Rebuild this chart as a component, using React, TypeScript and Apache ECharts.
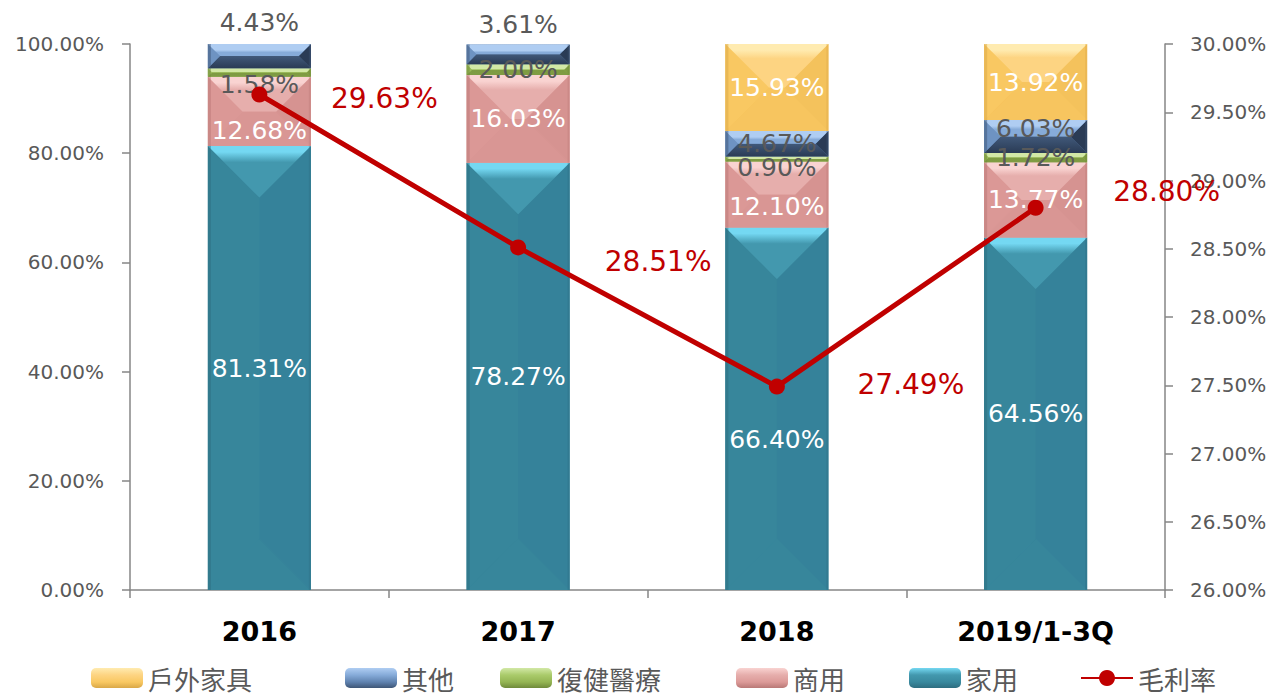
import React, { useEffect, useRef } from 'react';
import * as echarts from 'echarts';

// ---- data ----
const categories = ['2016', '2017', '2018', '2019/1-3Q'];
const household = [81.31, 78.27, 66.40, 64.56];   // 家用
const commercial = [12.68, 16.03, 12.10, 13.77];  // 商用
const rehab = [1.58, 2.00, 0.90, 1.72];           // 復健醫療
const other = [4.43, 3.61, 4.67, 6.03];           // 其他
const outdoor = [0, 0, 15.93, 13.92];             // 戶外家具
const grossMargin = [29.63, 28.51, 27.49, 28.80]; // 毛利率

const leftAxis = { min: 0, max: 100, interval: 20 };
const rightAxis = { min: 26, max: 30, interval: 0.5 };

// ---- styles (label nudges, palettes) ----
const householdDy = [0, 0, 31, 0];
const commercialDy = [19, 0, 12, 0];
const rehabDy = [12, 0, 9, 0];
const otherDy = [-34, -30, 0, -8];
const outdoorDy = [0, 0, 0, 0];
const marginLabelOffsets = [[125, 4], [140, 14], [134, -2], [131, -16]];

const PAL: Record<string, any> = {
  household: { hi: '#74D8F2', top: '#4398AE', left: '#37869B', right: '#35829A', bottom: '#37869B', base: '#39899E', edge: '#2E6E80', strongBottom: false },
  commercial: { hi: '#F9D3D1', top: '#E6AEAC', left: '#DB9896', right: '#D69391', bottom: '#D99694', base: '#DC9A98', edge: '#B97876', strongBottom: false },
  rehab: { hi: '#D2E8A6', top: '#AACB6B', left: '#9BBB59', right: '#7F9C43', bottom: '#7E9B42', base: '#94B553', edge: '#6F8A3A', strongBottom: true },
  other: { hi: '#AFCDF2', top: '#86ABD9', left: '#6E93C2', right: '#2A3B55', bottom: '#41597A', base: '#5F82AF', edge: '#3E5676', strongBottom: true },
  outdoor: { hi: '#FFEBB0', top: '#FDD482', left: '#F9C862', right: '#F4C25C', bottom: '#F7C55F', base: '#F9C862', edge: '#D9A747', strongBottom: false },
};

const seriesDefs = [
  { name: '家用', values: household, pal: PAL.household, labelColor: '#FFFFFF', dy: householdDy },
  { name: '商用', values: commercial, pal: PAL.commercial, labelColor: '#FFFFFF', dy: commercialDy },
  { name: '復健醫療', values: rehab, pal: PAL.rehab, labelColor: '#595959', dy: rehabDy },
  { name: '其他', values: other, pal: PAL.other, labelColor: '#595959', dy: otherDy },
  { name: '戶外家具', values: outdoor, pal: PAL.outdoor, labelColor: '#FFFFFF', dy: outdoorDy },
];

const legendNames = ['戶外家具', '其他', '復健醫療', '商用', '家用', '毛利率'];
const legendLefts = [91, 345, 500, 736, 909, 1080];

const LABEL_FONT = '"DejaVu Sans", sans-serif';
const CJK_FONT = '"Noto Sans CJK TC", "Noto Sans CJK SC", sans-serif';

function makeRender(pal: any, labelColor: string, dy: number[]) {
  return (params: any, api: any) => {
    const i = api.value(0);
    const lo = api.value(1);
    const hiV = api.value(2);
    const v = api.value(3);
    const pB = api.coord([i, lo]);
    const pT = api.coord([i, hiV]);
    const w = api.size([1, 0])[0] * 0.398;
    const cx = pB[0];
    const x0 = cx - w / 2;
    const x1 = cx + w / 2;
    const y0 = pB[1];
    const y1 = pT[1];
    const h = y0 - y1;
    const d = Math.min(w / 2, h / 2);
    const s = Math.min(0.9, 6 / Math.max(d, 1));
    const topGrad = new echarts.graphic.LinearGradient(0, 0, 0, 1, [
      { offset: 0, color: pal.hi },
      { offset: s, color: pal.hi },
      { offset: Math.min(1, s + 0.2), color: pal.top },
      { offset: 1, color: pal.top },
    ]);
    const botGrad = new echarts.graphic.LinearGradient(0, 0, 0, 1, [
      { offset: 0, color: pal.bottom },
      { offset: 1, color: pal.right },
    ]);
    const children: any[] = [
      { type: 'rect', shape: { x: x0, y: y1, width: w, height: h }, style: { fill: pal.base } },
      {
        type: 'polygon',
        shape: { points: [[x0, y0], [x1, y0], [x1 - d, y0 - d], [x0 + d, y0 - d]] },
        style: { fill: pal.strongBottom ? botGrad : pal.bottom },
      },
      {
        type: 'polygon',
        shape: { points: [[x0, y1], [x0 + d, y1 + d], [x0 + d, y0 - d], [x0, y0]] },
        style: { fill: pal.left },
      },
      {
        type: 'polygon',
        shape: { points: [[x1, y1], [x1 - d, y1 + d], [x1 - d, y0 - d], [x1, y0]] },
        style: { fill: pal.right },
      },
      {
        type: 'polygon',
        shape: { points: [[x0, y1], [x1, y1], [x1 - d, y1 + d], [x0 + d, y1 + d]] },
        style: { fill: topGrad },
      },
      {
        type: 'rect',
        shape: { x: x0, y: y1, width: 3, height: h },
        style: { fill: pal.edge, opacity: 0.5 },
      },
      {
        type: 'rect',
        shape: { x: x1 - 2, y: y1, width: 2, height: h },
        style: { fill: pal.edge, opacity: 0.35 },
      },
      {
        type: 'text',
        z2: 100,
        style: {
          text: v.toFixed(2) + '%',
          x: cx,
          y: (y0 + y1) / 2 + dy[i],
          align: 'center',
          verticalAlign: 'middle',
          fill: labelColor,
          fontSize: 25,
          fontFamily: LABEL_FONT,
        },
      },
    ];
    return { type: 'group', children };
  };
}

function buildBarSeries() {
  const cum = categories.map(() => 0);
  return seriesDefs.map((def) => {
    const data: number[][] = [];
    def.values.forEach((v, i) => {
      if (v > 0) data.push([i, cum[i], cum[i] + v, v]);
      cum[i] += v;
    });
    return {
      type: 'custom',
      name: def.name,
      yAxisIndex: 0,
      renderItem: makeRender(def.pal, def.labelColor, def.dy),
      encode: { x: 0, y: [1, 2] },
      itemStyle: {
        color: new echarts.graphic.LinearGradient(0, 0, 0, 1, [
          { offset: 0, color: def.pal.hi },
          { offset: 0.35, color: def.pal.top },
          { offset: 0.7, color: def.pal.base },
          { offset: 1, color: def.pal.edge },
        ]),
      },
      clip: false,
      data,
      z: 2,
    };
  });
}

export default function App() {
  const ref = useRef<HTMLDivElement>(null);
  useEffect(() => {
    if (!ref.current) return;
    const chart = echarts.init(ref.current, undefined, { renderer: 'svg' });
    const axisLine = { show: true, lineStyle: { color: '#868686', width: 1.5 } };
    const option: any = {
      animation: false,
      backgroundColor: '#FFFFFF',
      grid: { left: 130, right: 109, top: 44, bottom: 105 },
      legend: legendNames.map((name, k) => ({
        data: [name],
        left: legendLefts[k],
        top: 665,
        padding: 0,
        itemWidth: 52,
        itemHeight: 20,
        selectedMode: false,
        textStyle: { fontSize: 26, lineHeight: 26, color: '#595959', fontFamily: CJK_FONT },
      })),
      xAxis: {
        type: 'category',
        data: categories,
        axisLine,
        axisTick: { show: true, length: 8, lineStyle: { color: '#868686', width: 1.5 } },
        axisLabel: {
          fontSize: 27,
          fontWeight: 'bold',
          color: '#000000',
          fontFamily: LABEL_FONT,
          margin: 28,
        },
        splitLine: { show: false },
      },
      yAxis: [
        {
          type: 'value',
          min: leftAxis.min,
          max: leftAxis.max,
          interval: leftAxis.interval,
          axisLine,
          axisTick: { show: true, length: 8, lineStyle: { color: '#868686', width: 1.5 } },
          axisLabel: {
            formatter: (v: number) => v.toFixed(2) + '%',
            fontSize: 20,
            color: '#595959',
            fontFamily: LABEL_FONT,
            margin: 26,
          },
          splitLine: { show: false },
        },
        {
          type: 'value',
          position: 'right',
          min: rightAxis.min,
          max: rightAxis.max,
          interval: rightAxis.interval,
          axisLine,
          axisTick: { show: true, length: 8, lineStyle: { color: '#868686', width: 1.5 } },
          axisLabel: {
            formatter: (v: number) => v.toFixed(2) + '%',
            fontSize: 20,
            color: '#595959',
            fontFamily: LABEL_FONT,
            margin: 25,
          },
          splitLine: { show: false },
        },
      ],
      series: [
        ...buildBarSeries(),
        {
          type: 'line',
          name: '毛利率',
          yAxisIndex: 1,
          data: grossMargin.map((v, i) => ({ value: v, label: { offset: marginLabelOffsets[i] } })),
          symbol: 'circle',
          symbolSize: 16,
          lineStyle: { color: '#C00000', width: 5 },
          itemStyle: { color: '#C00000' },
          z: 10,
          label: {
            show: true,
            position: 'inside',
            formatter: (p: any) => Number(p.value).toFixed(2) + '%',
            fontSize: 28,
            color: '#C00000',
            fontFamily: LABEL_FONT,
          },
        },
      ],
    };
    chart.setOption(option);
    return () => chart.dispose();
  }, []);
  return (
    <div
      ref={ref}
      style={{ position: 'fixed', left: 0, top: 0, width: 1274, height: 695, background: '#fff' }}
    />
  );
}
